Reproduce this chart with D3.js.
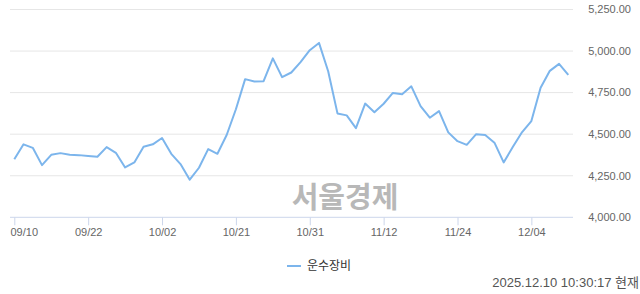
<!DOCTYPE html>
<html>
<head>
<meta charset="utf-8">
<script src="https://cdn.jsdelivr.net/npm/d3@7"></script>
<style>
  body { margin: 0; background: #fff; }
  svg text { font-family: "Liberation Sans", Arial, "Noto Sans CJK KR", sans-serif; }
</style>
</head>
<body>
<div id="main"></div>
<script>
// trading days shown on the chart
var dates = ["09/10","09/11","09/12","09/15","09/16","09/17","09/18","09/19","09/22","09/23",
             "09/24","09/25","09/26","09/29","09/30","10/01","10/02","10/10","10/13","10/14",
             "10/15","10/16","10/17","10/20","10/21","10/22","10/23","10/24","10/27","10/28",
             "10/29","10/30","10/31","11/03","11/04","11/05","11/06","11/07","11/10","11/11",
             "11/12","11/13","11/14","11/17","11/18","11/19","11/20","11/21","11/24","11/25",
             "11/26","11/27","11/28","12/01","12/02","12/03","12/04","12/05","12/08","12/09","12/10"];

// 운수장비 index values
var values = [4349,4439,4418,4314,4376,4386,4376,4374,4369,4364,
              4422,4388,4300,4330,4424,4439,4477,4382,4320,4226,
              4298,4410,4382,4495,4650,4831,4817,4819,4956,4843,
              4871,4933,5005,5049,4877,4625,4613,4536,4684,4632,
              4683,4748,4740,4788,4669,4599,4639,4511,4458,4436,
              4499,4495,4449,4330,4424,4513,4579,4779,4881,4923,4857];

var xTicks = ["09/10","09/22","10/02","10/21","10/31","11/12","11/24","12/04"];
var yTicks = [4000, 4250, 4500, 4750, 5000, 5250];

var seriesName = "운수장비";
var watermark = "서울경제";
var stamp = "2025.12.10 10:30:17 현재";

const w = 640, h = 294;
const plotLeft = 10, plotRight = 573;

const svg = d3.select('#main').append('svg')
              .attr('width', w)
              .attr('height', h);

const x = d3.scalePoint()
            .domain(dates)
            .range([14.3, 568.3]);

const y = d3.scaleLinear()
            .domain([4000, 5250])
            .range([217.3, 9.5]);

// gridlines
svg.append('g')
   .selectAll('line')
   .data(yTicks.slice(1))
   .enter()
   .append('line')
   .attr('x1', plotLeft)
   .attr('x2', plotRight)
   .attr('y1', d => y(d))
   .attr('y2', d => y(d))
   .attr('stroke', '#e6e6e6')
   .attr('stroke-width', 1);

// y labels on the right
svg.append('g')
   .selectAll('text')
   .data(yTicks)
   .enter()
   .append('text')
   .attr('x', 631)
   .attr('y', d => y(d))
   .attr('dy', '0.35em')
   .attr('text-anchor', 'end')
   .attr('font-size', 11)
   .attr('fill', '#666')
   .text(d => d3.format(',.2f')(d));

// watermark
svg.append('text')
   .attr('x', 345)
   .attr('y', 208)
   .attr('text-anchor', 'middle')
   .attr('font-size', 29)
   .attr('font-weight', 'bold')
   .attr('fill', '#b8b8b8')
   .style('font-family', '"Noto Sans CJK KR", sans-serif')
   .text(watermark);

// x axis
const xAxis = d3.axisBottom(x)
                .tickValues(xTicks)
                .tickSize(8)
                .tickSizeOuter(0)
                .tickPadding(3);

const gx = svg.append('g')
              .attr('transform', 'translate(0,' + y(4000) + ')')
              .call(xAxis);

gx.select('.domain').remove();
gx.append('line')
  .attr('x1', plotLeft).attr('x2', plotRight)
  .attr('stroke', '#ccd6eb');
gx.selectAll('.tick line').attr('stroke', '#ccd6eb');
gx.selectAll('.tick text')
  .attr('font-size', 11)
  .attr('fill', '#666')
  .style('font-family', '"Liberation Sans", Arial, sans-serif')
  .each(function() {       // keep the first label inside the plot (justify)
      const b = this.getBBox();
      const tx = x(d3.select(this).datum());
      if (tx + b.x < plotLeft) d3.select(this).attr('x', plotLeft - (tx + b.x));
  });

// series line
const line = d3.line()
               .x((d, i) => x(dates[i]))
               .y(d => y(d));

svg.append('path')
   .datum(values)
   .attr('fill', 'none')
   .attr('stroke', '#7cb5ec')
   .attr('stroke-width', 2)
   .attr('stroke-linejoin', 'round')
   .attr('d', line);

// legend
svg.append('line')
   .attr('x1', 287).attr('x2', 301)
   .attr('y1', 266).attr('y2', 266)
   .attr('stroke', '#7cb5ec')
   .attr('stroke-width', 2);

svg.append('text')
   .attr('x', 307)
   .attr('y', 266)
   .attr('dy', '0.35em')
   .attr('font-size', 12)
   .attr('fill', '#333')
   .style('font-family', '"Noto Sans CJK KR", sans-serif')
   .text(seriesName);

// timestamp
svg.append('text')
   .attr('x', 639)
   .attr('y', 282)
   .attr('dy', '0.35em')
   .attr('text-anchor', 'end')
   .attr('font-size', 13)
   .attr('fill', '#555')
   .text(stamp);
</script>
</body>
</html>
